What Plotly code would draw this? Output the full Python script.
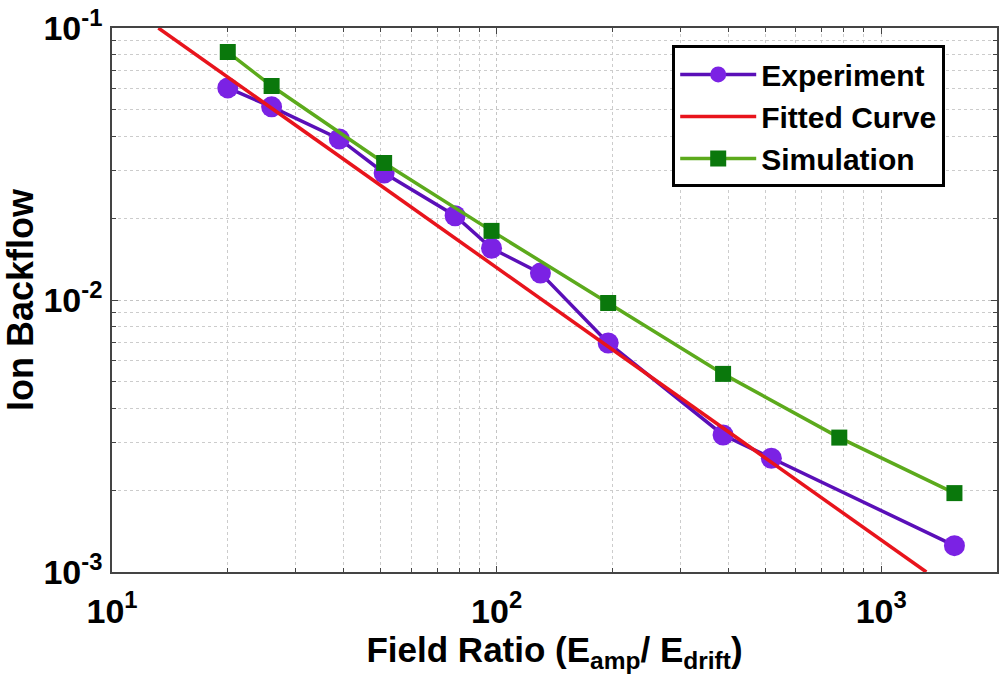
import plotly.graph_objects as go

exp_x = [20, 26, 39, 51, 78, 97, 130, 195, 388, 518, 1550]
exp_y = [0.0602, 0.0513, 0.0391, 0.0293, 0.0204, 0.0155, 0.01256, 0.00695, 0.00319, 0.00262, 0.00125]

sim_x = [20, 26, 51, 97, 195, 388, 778, 1550]
sim_y = [0.0816, 0.0612, 0.0319, 0.01795, 0.00975, 0.00535, 0.00312, 0.00195]

fit_x = [13.2, 1310]
fit_y = [0.1, 0.001]

x_ticks = [10, 100, 1000]
x_ticktext = ["<b>10<sup>1</sup></b>", "<b>10<sup>2</sup></b>", "<b>10<sup>3</sup></b>"]
y_ticks = [0.001, 0.01, 0.1]
y_ticktext = ["<b>10<sup>-3</sup></b>", "<b>10<sup>-2</sup></b>", "<b>10<sup>-1</sup></b>"]

x_minor = [m * d for d in (10, 100, 1000) for m in range(2, 10)]
y_minor = [m * d for d in (0.001, 0.01) for m in range(2, 10)]

tick_font = dict(family="Liberation Sans Narrow, Arial Narrow, Liberation Sans, Arial", size=34, color="black")
title_family = "Liberation Sans, Arial"

fig = go.Figure()
fig.add_trace(go.Scatter(
    x=exp_x, y=exp_y, name="<b>Experiment</b>", mode="lines+markers",
    line=dict(color="#5A0FB8", width=3.5),
    marker=dict(symbol="circle", size=21, color="#7B22E4", line=dict(width=0)),
    legendgroup="a",
))
fig.add_trace(go.Scatter(
    x=fit_x, y=fit_y, name="<b>Fitted Curve</b>", mode="lines",
    line=dict(color="#E8141C", width=3.5),
    legendgroup="b",
))
fig.add_trace(go.Scatter(
    x=sim_x, y=sim_y, name="<b>Simulation</b>", mode="lines+markers",
    line=dict(color="#5CAA1C", width=3.5),
    marker=dict(symbol="square", size=16, color="#0A780C", line=dict(width=0)),
    legendgroup="c",
))

axis_common = dict(
    type="log",
    automargin=False,
    showline=True, linecolor="#444444", linewidth=1.5, mirror="ticks",
    ticks="inside", ticklen=6, tickcolor="#444444", tickwidth=1,
    showgrid=True, gridcolor="#C4C4C4", griddash="dot", gridwidth=1,
    zeroline=False,
    tickfont=tick_font,
)

fig.update_xaxes(
    **axis_common,
    range=[1, 3.301],
    tickmode="array", tickvals=x_ticks, ticktext=x_ticktext,
    ticklabelstandoff=8,
    minor=dict(tickmode="array", tickvals=x_minor, ticks="inside", ticklen=4,
               tickcolor="#444444", showgrid=True, gridcolor="#CCCCCC", griddash="dot"),
    title=dict(text="<b>Field Ratio (E<sub>amp</sub>/ E<sub>drift</sub>)</b>",
               font=dict(family=title_family, size=35, color="black"),
               standoff=4),
)
fig.update_yaxes(
    **axis_common,
    range=[-3, -1],
    tickmode="array", tickvals=y_ticks, ticktext=y_ticktext,
    ticklabelstandoff=1,
    minor=dict(tickmode="array", tickvals=y_minor, ticks="inside", ticklen=4,
               tickcolor="#444444", showgrid=True, gridcolor="#CCCCCC", griddash="dot"),
    title=dict(text="<b>Ion Backflow</b>",
               font=dict(family=title_family, size=36, color="black"),
               standoff=13),
)

fig.update_layout(
    width=999, height=691,
    margin=dict(l=112, r=2, t=28, b=119),
    paper_bgcolor="white", plot_bgcolor="white",
    showlegend=True,
    legend=dict(
        x=0.633, y=0.968, xanchor="left", yanchor="top",
        bgcolor="white", bordercolor="black", borderwidth=3,
        font=dict(family=title_family, size=30, color="black"),
        tracegroupgap=0, itemwidth=76,
    ),
)

fig.write_html(
    "out.html",
    config={"displayModeBar": False},
    post_script="document.body.style.margin='0';document.body.style.padding='0';document.body.style.overflow='hidden';",
)
